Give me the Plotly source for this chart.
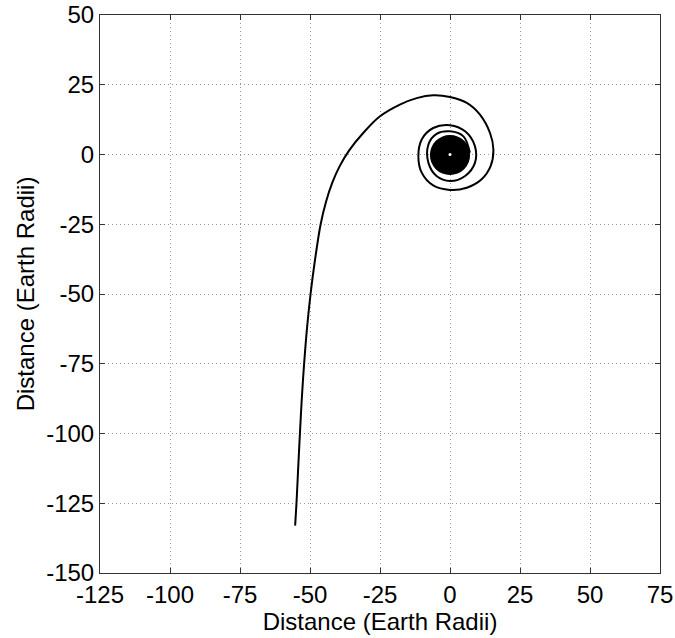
import plotly.graph_objects as go

# Trajectory (Earth radii)
traj_x = [-55.3, -54.8, -54.2, -53.6, -52.9, -52.1, -51.1, -49.8, -48.2, -46.2,
          -44.3, -42.0, -39.3, -36.0, -31.0, -25.0, -17.9, -11.9, -6.0, 0.0,
          6.0, 10.7, 14.3, 15.5, 14.5, 11.3, 6.0, 0.0, -6.0, -10.1,
          -11.3, -10.1, -6.0, 0.0, 5.4, 8.9, 8.9, 5.4, 0.0, -4.8,
          -7.7, -7.7, -4.8, 0.0, 4.8, 7.1]
traj_y = [-133.0, -124.5, -112.0, -100.0, -87.0, -75.0, -62.6, -50.0, -37.7, -25.0,
          -17.0, -10.0, -4.0, 1.5, 7.7, 13.7, 17.9, 20.2, 21.2, 20.6,
          18.5, 14.3, 7.7, 1.8, -4.2, -8.9, -11.9, -12.7, -11.1, -6.5,
          -0.6, 5.4, 9.5, 10.5, 8.3, 3.0, -3.0, -7.7, -9.5, -7.7,
          -3.0, 3.6, 7.4, 8.3, 6.5, 0.6]

# Dense inner orbits (appear as a filled disk)
disk_x = [6.9, 6.4, 4.9, 2.6, 0.0, -2.6, -4.9, -6.4, -6.9, -6.4, -4.9, -2.6, 0.0, 2.6, 4.9, 6.4, 6.9]
disk_y = [-0.2, 2.4, 4.7, 6.2, 6.7, 6.2, 4.7, 2.4, -0.2, -2.8, -5.1, -6.6, -7.1, -6.6, -5.1, -2.8, -0.2]

centre_x = [0.0]
centre_y = [0.0]

x_ticks = [-125, -100, -75, -50, -25, 0, 25, 50, 75]
x_labels = ["-125", "-100", "-75", "-50", "-25", "0", "25", "50", "75"]
y_ticks = [-150, -125, -100, -75, -50, -25, 0, 25, 50]
y_labels = ["-150", "-125", "-100", "-75", "-50", "-25", "0", "25", "50"]

fig = go.Figure()
fig.add_trace(go.Scatter(x=disk_x, y=disk_y, mode="lines", fill="toself",
                         fillcolor="black", line=dict(color="black", width=1.5, shape="spline"),
                         hoverinfo="skip"))
fig.add_trace(go.Scatter(x=traj_x, y=traj_y, mode="lines",
                         line=dict(color="black", width=2, shape="spline", smoothing=1.0)))
fig.add_trace(go.Scatter(x=centre_x, y=centre_y, mode="markers",
                         marker=dict(color="white", size=3)))

font = dict(family="Liberation Sans, Arial, sans-serif", size=24, color="black")
axis_common = dict(
    showgrid=True, gridcolor="#999999", griddash="1px,3px", gridwidth=1,
    showline=True, linecolor="#333333", linewidth=1, mirror="ticks",
    ticks="inside", ticklen=5, tickcolor="#333333",
    zeroline=False, tickfont=font, automargin=False,
)
fig.update_layout(
    width=675, height=638,
    margin=dict(l=100, r=15, t=15, b=65),
    plot_bgcolor="white", paper_bgcolor="white",
    showlegend=False, font=font,
    xaxis=dict(range=[-125, 75], tickvals=x_ticks, ticktext=x_labels,
               title=dict(text="Distance (Earth Radii)", font=font, standoff=0),
               **axis_common),
    yaxis=dict(range=[-150, 50], tickvals=y_ticks, ticktext=y_labels,
               title=dict(text="Distance (Earth Radii)", font=font, standoff=4),
               **axis_common),
)
fig.write_html("out.html", config={"displayModeBar": False},
               post_script="document.body.style.margin='0';")
